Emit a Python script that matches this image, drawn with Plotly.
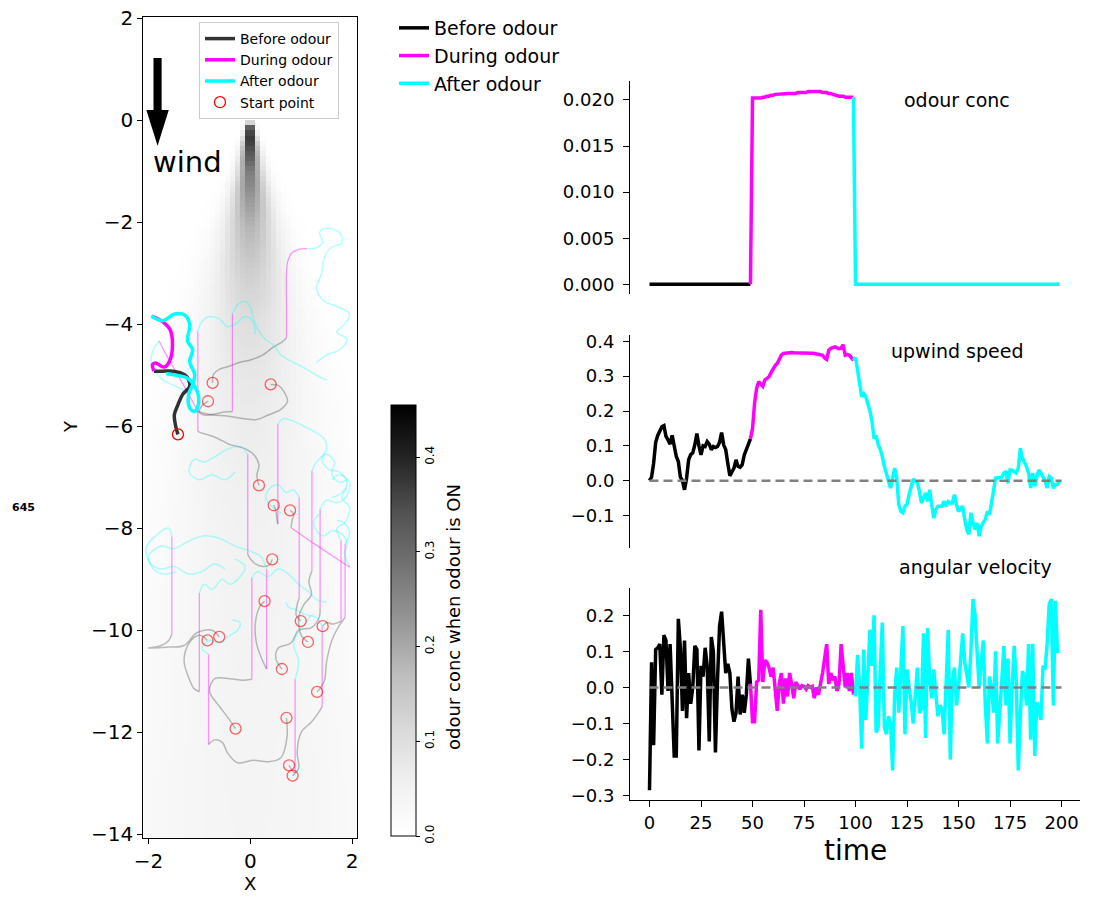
import numpy as np
import plotly.graph_objects as go

FONT = "DejaVu Sans"

# ---------------- time series (right panels) ----------------
time = list(range(200))

odour_conc = [0.0] * 50 + [
    0.0202, 0.0202, 0.0202, 0.0202, 0.0202, 0.0203, 0.0203, 0.0204, 0.0204, 0.0205,
    0.0205, 0.0206, 0.0206, 0.02065, 0.02065, 0.02067, 0.02068, 0.0207, 0.0207, 0.0207,
    0.0207, 0.0207, 0.0208, 0.0208, 0.0208, 0.0208, 0.0208, 0.0209, 0.0209, 0.0209,
    0.0209, 0.0209, 0.0209, 0.0209, 0.0208, 0.0208, 0.0208, 0.0207, 0.0207, 0.0206,
    0.0205, 0.0205, 0.0204, 0.0204, 0.0204, 0.0203, 0.0203, 0.0203, 0.0203, 0.0203,
] + [0.0] * 100

upwind_speed = [
    0.0, 0.01, 0.05, 0.11, 0.13, 0.145, 0.155, 0.158, 0.127, 0.117,
    0.105, 0.13, 0.1, 0.07, 0.055, 0.01, 0.0, -0.026, 0.008, 0.06,
    0.075, 0.08, 0.103, 0.135, 0.1, 0.074, 0.1, 0.098, 0.112, 0.105,
    0.089, 0.098, 0.095, 0.098, 0.11, 0.138, 0.103, 0.089, 0.05, 0.014,
    0.025, 0.036, 0.06, 0.041, 0.039, 0.046, 0.074, 0.089, 0.105, 0.12,
    0.15, 0.222, 0.265, 0.284, 0.279, 0.271, 0.289, 0.293, 0.298, 0.31,
    0.322, 0.33, 0.336, 0.35, 0.36, 0.365, 0.366, 0.367, 0.367, 0.368,
    0.367, 0.367, 0.368, 0.368, 0.367, 0.367, 0.368, 0.367, 0.366, 0.366,
    0.365, 0.364, 0.363, 0.362, 0.36, 0.352, 0.348, 0.374, 0.38, 0.382,
    0.384, 0.381, 0.379, 0.38, 0.39, 0.36, 0.362, 0.36, 0.352, 0.345,
    0.353, 0.317, 0.275, 0.241, 0.25, 0.241, 0.22, 0.2, 0.17, 0.12,
    0.13, 0.103, 0.09, 0.07, 0.041, 0.015, 0.0, -0.021, 0.01, 0.036,
    0.008, -0.069, -0.088, -0.092, -0.073, -0.068, -0.04, -0.016, 0.005, -0.002,
    -0.005, -0.03, -0.064, -0.05, -0.035, -0.059, -0.026, -0.07, -0.107, -0.083,
    -0.073, -0.073, -0.073, -0.059, -0.073, -0.06, -0.064, -0.064, -0.04, -0.069,
    -0.088, -0.08, -0.073, -0.111, -0.14, -0.154, -0.092, -0.12, -0.14, -0.121,
    -0.159, -0.13, -0.121, -0.111, -0.088, -0.097, -0.064, -0.03, 0.008, 0.008,
    0.008, 0.01, 0.022, 0.027, -0.007, 0.031, 0.03, 0.027, 0.022, 0.036,
    0.093, 0.065, 0.055, 0.04, 0.022, -0.021, 0.022, -0.016, 0.012, 0.031,
    0.022, 0.012, 0.0, -0.021, 0.012, 0.008, -0.021, -0.011, -0.011, -0.002,
]

angular_velocity = [
    -0.285, 0.07, -0.16, 0.105, 0.11, 0.12, -0.02, 0.145, 0.13, -0.01,
    0.12, -0.02, -0.19, -0.19, 0.19, 0.11, -0.065, 0.13, -0.085, 0.04,
    -0.045, 0.0, 0.115, 0.105, -0.175, 0.06, 0.03, 0.11, 0.06, -0.15,
    0.14, 0.1, -0.18, 0.02, 0.17, 0.21, 0.12, 0.04, 0.065, 0.04,
    -0.06, -0.095, -0.07, 0.03, -0.075, -0.02, -0.07, -0.02, 0.08, 0.01,
    -0.095, -0.095, 0.015, 0.02, 0.215, 0.015, 0.075, 0.07, 0.055, 0.03,
    0.055, -0.005, -0.065, 0.01, 0.04, -0.045, 0.025, -0.025, 0.04, 0.01,
    -0.03, 0.015, 0.005, -0.005, 0.005, 0.003, -0.005, 0.005, 0.0, 0.003,
    -0.03, 0.0, -0.02, 0.005, 0.04, 0.08, 0.12, 0.01, 0.04, 0.02,
    0.03, -0.01, 0.01, 0.12, 0.06, 0.0, 0.04, -0.01, 0.04, -0.02,
    -0.02, 0.09, 0.0, -0.17, 0.105, -0.09, 0.06, 0.16, 0.06, 0.2,
    -0.125, -0.11, 0.05, 0.18, -0.11, -0.13, -0.08, -0.1, -0.23, -0.02,
    0.055, -0.07, 0.05, 0.17, -0.13, 0.05, 0.0, -0.04, -0.1, -0.02,
    0.055, -0.07, -0.06, 0.15, -0.14, 0.165, 0.02, -0.03, 0.05, -0.02,
    -0.08, -0.05, -0.06, -0.13, 0.02, 0.16, -0.2, 0.02, 0.055, -0.05,
    0.0, 0.08, 0.15, 0.07, 0.03, 0.0, 0.1, 0.245, 0.2, 0.08,
    0.0, 0.07, 0.13, -0.05, -0.155, 0.03, 0.0, -0.07, 0.1, -0.155,
    -0.05, 0.02, 0.115, -0.05, 0.08, -0.155, 0.0, 0.115, 0.02, -0.23,
    -0.08, 0.045, 0.03, -0.05, 0.12, -0.145, 0.12, -0.19, -0.04, -0.06,
    -0.09, 0.06, 0.05, 0.12, 0.23, 0.245, -0.05, 0.24, 0.1, 0.1,
]

# phase boundaries (index ranges, overlapping by one sample so the line is continuous)
before_idx = (0, 50)
during_idx = (49, 100)
after_idx = (99, 200)
baseline_t = [0, 200]
baseline_v = [0, 0]

# ---------------- plume (centre-line level and width) ----------------
plume_y = [-0.05, -0.15, -0.3, -0.6, -1.0, -1.5, -2.0, -2.5, -3.0, -4.0, -5.0, -6.0, -8.0, -10.0, -12.0, -14.2]
plume_conc = [0.2, 0.45, 0.45, 0.37, 0.28, 0.23, 0.19, 0.16, 0.135, 0.1, 0.08, 0.065, 0.052, 0.046, 0.042, 0.04]
plume_sigma = [0.05, 0.06, 0.08, 0.12, 0.17, 0.26, 0.34, 0.42, 0.5, 0.65, 0.8, 0.95, 1.2, 1.45, 1.7, 2.0]

# ---------------- highlighted trajectory ----------------
main_before_x = [-1.42, -1.47, -1.49, -1.42, -1.33, -1.19, -1.21, -1.29, -1.52, -1.72, -1.89]
main_before_y = [-6.16, -5.97, -5.77, -5.58, -5.38, -5.22, -5.09, -4.99, -4.92, -4.92, -4.92]
main_during_x = [-1.89, -1.92, -1.86, -1.69, -1.56, -1.56, -1.72, -1.94]
main_during_y = [-4.92, -4.79, -4.76, -4.84, -4.66, -4.14, -3.95, -3.84]
main_after_x = [-1.94, -1.72, -1.49, -1.29, -1.19, -1.23, -1.13, -1.19, -1.09, -1.13, -1.21, -1.19, -1.09, -1.01, -1.1, -1.25, -1.45, -1.65]
main_after_y = [-3.84, -3.93, -3.80, -3.82, -4.0, -4.33, -4.5, -4.73, -4.99, -5.18, -5.38, -5.64, -5.71, -5.51, -5.2, -5.05, -5.0, -4.97]

# ---------------- background trajectories ----------------
bg_before = [
    ([-0.74, -0.72, -0.60, -0.40, -0.22, 0.0, 0.25, 0.45, 0.62, 0.71], [-5.15, -4.98, -4.88, -4.82, -4.75, -4.7, -4.6, -4.45, -4.35, -4.27]),
    ([-0.83, -0.95, -1.0, -0.9, -0.7, -0.5, -0.35], [-5.51, -5.6, -5.72, -5.78, -5.76, -5.72, -5.71]),
    ([0.40, 0.55, 0.66, 0.73, 0.6, 0.35, 0.13, -0.15, -0.46, -0.75, -1.03], [-5.18, -5.2, -5.32, -5.51, -5.67, -5.78, -5.87, -5.85, -5.8, -5.78, -5.71]),
    ([0.17, 0.13, 0.17, 0.07, -0.13, -0.4, -0.66, -0.86, -0.99, -1.03], [-7.16, -6.96, -6.76, -6.56, -6.43, -6.36, -6.23, -6.16, -6.12, -6.1]),
    ([0.46, 0.5, 0.52, 0.54], [-7.55, -7.65, -7.8, -7.92]),
    ([0.78, 0.85, 0.82, 0.8], [-7.65, -7.72, -7.85, -7.99]),
    ([0.43, 0.38, 0.25, 0.1, 0.0, -0.05], [-8.61, -8.72, -8.75, -8.7, -8.6, -8.51]),
    ([0.28, 0.18, 0.1, 0.12, 0.22, 0.32], [-9.43, -9.55, -9.85, -10.25, -10.55, -10.76]),
    ([0.99, 0.9, 0.92, 0.96], [-9.82, -9.7, -9.5, -9.37]),
    ([1.42, 1.5, 1.62, 1.72, 1.78], [-9.92, -9.85, -9.88, -9.85, -9.82]),
    ([1.13, 1.0, 0.95, 1.05, 1.2, 1.15, 1.21], [-10.23, -10.1, -9.75, -9.5, -9.3, -9.05, -8.84]),
    ([-0.61, -0.75, -1.05, -1.3, -1.6, -2.0, -1.75, -1.6, -1.54], [-10.13, -10.0, -10.05, -10.3, -10.33, -10.35, -10.3, -10.2, -10.08]),
    ([-0.84, -1.0, -1.2, -1.3, -1.22, -1.1, -1.0], [-10.2, -10.1, -10.25, -10.6, -10.9, -11.15, -11.2]),
    ([0.62, 0.5, 0.55, 0.8, 0.95, 1.2, 1.35, 1.37], [-10.76, -10.55, -10.35, -10.25, -10.0, -9.95, -9.75, -9.57]),
    ([1.31, 1.45, 1.5, 1.6, 1.75, 1.86], [-11.21, -11.0, -10.6, -10.2, -9.9, -9.75]),
    ([0.71, 0.72, 0.6, 0.35, 0.05, -0.25, -0.45, -0.55, -0.7, -0.82], [-11.72, -12.1, -12.5, -12.58, -12.55, -12.6, -12.4, -12.2, -12.15, -12.24]),
    ([-0.29, -0.45, -0.6, -0.8, -0.7, -0.4, -0.15, 0.03], [-11.93, -11.7, -11.5, -11.2, -10.95, -10.95, -10.98, -10.96]),
    ([0.76, 0.82, 0.88], [-12.65, -12.75, -12.8]),
    ([0.83, 0.95, 0.92, 1.0, 1.2, 1.35, 1.41], [-12.85, -12.7, -12.4, -12.0, -11.8, -11.6, -11.5]),
]

bg_during = [
    ([0.71, 0.71, 0.71, 0.74, 0.82, 0.95, 1.11], [-4.27, -3.6, -3.0, -2.75, -2.6, -2.53, -2.52]),
    ([-0.35, -0.35, -0.35], [-5.71, -4.5, -3.8]),
    ([-1.03, -1.25, -1.45, -1.65, -1.79], [-5.71, -5.3, -4.95, -4.6, -4.33]),
    ([-1.03, -1.03, -1.03], [-6.1, -5.0, -4.14]),
    ([0.54, 0.54, 0.54], [-7.92, -7.0, -5.96]),
    ([0.8, 1.1, 1.4, 1.7, 1.95, 1.93], [-7.99, -8.2, -8.4, -8.6, -8.76, -8.72]),
    ([-0.05, -0.05, -0.05], [-8.51, -7.5, -6.55]),
    ([0.32, 0.32, 0.32], [-10.76, -9.8, -8.8]),
    ([0.96, 0.96, 0.96], [-9.37, -8.4, -7.4]),
    ([1.78, 1.78, 1.78], [-9.82, -9.0, -8.24]),
    ([1.21, 1.21, 1.21], [-8.84, -7.9, -6.88]),
    ([-1.54, -1.54, -1.54], [-10.08, -9.1, -8.16]),
    ([-1.0, -1.0, -1.0], [-11.2, -10.2, -9.27]),
    ([1.37, 1.37, 1.37], [-9.57, -8.6, -7.63]),
    ([1.86, 1.86, 1.86], [-9.75, -9.0, -8.3]),
    ([-0.82, -0.82, -0.82], [-12.24, -11.3, -10.47]),
    ([0.03, 0.03, 0.03], [-10.96, -10.0, -8.97]),
    ([0.88, 0.88, 0.88], [-12.8, -11.9, -10.96]),
    ([1.41, 1.41, 1.41], [-11.5, -10.7, -9.92]),
]

bg_after = [
    ([1.11, 1.3, 1.42, 1.36, 1.5, 1.75, 1.8, 1.58, 1.45, 1.4, 1.3, 1.45, 1.7, 1.95, 1.85, 1.7, 1.9, 1.75, 1.5, 1.3],
     [-2.52, -2.5, -2.38, -2.2, -2.12, -2.2, -2.4, -2.5, -2.7, -3.0, -3.3, -3.55, -3.65, -3.8, -4.0, -4.15, -4.3, -4.5, -4.6, -4.75]),
    ([-0.35, -0.25, -0.12, -0.02, 0.05, 0.15, 0.3, 0.45, 0.6, 0.85, 1.05, 1.3, 1.5],
     [-3.8, -3.62, -3.55, -3.62, -3.85, -4.1, -4.3, -4.4, -4.6, -4.75, -4.85, -5.0, -5.1]),
    ([-1.79, -1.9, -1.95, -1.85, -1.7, -1.5, -1.3], [-4.33, -4.5, -4.7, -4.95, -5.1, -5.2, -5.3]),
    ([-1.03, -0.95, -0.8, -0.6, -0.45, -0.3, -0.1, 0.05, 0.1], [-4.14, -3.95, -3.85, -3.9, -4.05, -4.0, -3.85, -3.95, -4.2]),
    ([0.54, 0.65, 0.85, 1.05, 1.25, 1.45, 1.5, 1.4, 1.55, 1.75, 1.9, 1.8, 1.6],
     [-5.96, -5.85, -5.9, -6.0, -6.1, -6.25, -6.45, -6.65, -6.85, -6.9, -7.1, -7.3, -7.4]),
    ([1.93, 1.85, 1.9, 1.78, 1.6, 1.45, 1.3, 1.25, 1.4], [-8.72, -8.5, -8.3, -8.1, -8.05, -8.15, -8.05, -7.85, -7.7]),
    ([-0.05, -0.2, -0.45, -0.7, -0.9, -1.1, -1.2, -1.0, -0.75, -0.5, -0.3], [-6.55, -6.4, -6.45, -6.6, -6.7, -6.65, -6.9, -7.05, -6.95, -7.05, -6.9]),
    ([0.32, 0.2, 0.0, -0.3, -0.6, -0.9, -1.2, -1.5, -1.75, -2.0, -1.9, -1.7, -1.45],
     [-8.8, -8.55, -8.45, -8.35, -8.2, -8.15, -8.25, -8.4, -8.35, -8.55, -8.8, -8.9, -8.85]),
    ([0.96, 0.85, 0.7, 0.55, 0.4, 0.3, 0.45, 0.6], [-7.4, -7.25, -7.3, -7.15, -7.2, -7.4, -7.6, -7.7]),
    ([1.78, 1.7, 1.85, 1.95, 1.8, 1.9], [-8.24, -8.0, -7.9, -7.6, -7.4, -7.2]),
    ([1.21, 1.3, 1.5, 1.65, 1.6, 1.75, 1.9], [-6.88, -6.7, -6.55, -6.7, -6.95, -7.1, -7.05]),
    ([-1.54, -1.6, -1.8, -2.05, -1.95, -1.75, -1.5, -1.2, -0.95, -0.7, -0.5], [-8.16, -8.0, -8.1, -8.4, -8.7, -8.8, -8.75, -8.9, -8.85, -8.7, -8.8]),
    ([-1.0, -0.9, -0.75, -0.55, -0.4, -0.2, -0.1, -0.3], [-9.27, -9.1, -9.2, -9.0, -9.1, -8.95, -8.75, -8.6]),
    ([1.37, 1.5, 1.7, 1.9, 1.95, 1.75, 1.6], [-7.63, -7.45, -7.5, -7.35, -7.1, -6.95, -7.05]),
    ([1.86, 1.95, 1.85, 1.7], [-8.3, -8.1, -7.9, -7.85]),
    ([-0.82, -0.95, -0.8, -0.6, -0.4, -0.25, -0.2, -0.35], [-10.47, -10.35, -10.2, -10.25, -10.1, -10.0, -9.85, -9.8]),
    ([0.03, 0.15, 0.35, 0.55, 0.75, 0.95, 1.15, 1.3, 1.5], [-8.97, -8.85, -8.95, -8.8, -8.9, -9.1, -9.25, -9.4, -9.45]),
    ([0.88, 0.95, 0.85, 0.9, 1.05, 1.2], [-10.96, -10.6, -10.3, -10.1, -9.9, -9.7]),
    ([1.41, 1.3, 1.1, 0.9, 0.75, 0.7], [-9.92, -9.75, -9.7, -9.6, -9.55, -9.45]),
]

# ---------------- colours ----------------
GREYS = [[0.0, "rgb(255,255,255)"], [0.125, "rgb(240,240,240)"], [0.25, "rgb(217,217,217)"],
         [0.375, "rgb(189,189,189)"], [0.5, "rgb(150,150,150)"], [0.625, "rgb(115,115,115)"],
         [0.75, "rgb(82,82,82)"], [0.875, "rgb(37,37,37)"], [1.0, "rgb(0,0,0)"]]
C_BEFORE = "#000000"
C_BEFORE_MAP = "rgba(0,0,0,0.8)"
C_DURING = "#ff00ff"
C_AFTER = "#00ffff"

# page geometry: the page body has an 8px margin, so the figure is placed at (8, 8)
OFF = 8
W, H = 1095 - OFF, 897 - OFF
def px(x):
    return (x - OFF) / W
def py(y):
    return 1 - (y - OFF) / H
def dx(a, b):
    return [px(a), px(b)]
def dy(top, bottom):
    return [py(bottom), py(top)]

fig = go.Figure()

# plume heatmap
xc = np.round(np.arange(-2.05, 2.06, 0.1), 3)
yc = np.round(np.arange(1.95, -14.11, -0.1), 3)
pyr = np.array(plume_y[::-1])
cc = np.interp(yc, pyr, plume_conc[::-1])
cs = np.interp(yc, pyr, plume_sigma[::-1])
Z = cc[:, None] * np.exp(-xc[None, :] ** 2 / (2 * cs[:, None] ** 2))
Z[yc > 0, :] = 0.0

fig.add_trace(go.Heatmap(
    x=xc, y=yc, z=Z, colorscale=GREYS, zmin=0, zmax=0.455, xaxis="x", yaxis="y",
    hoverinfo="skip", showscale=True,
    colorbar=dict(x=px(391), xanchor="left", y=py(836), yanchor="bottom",
                  len=(836 - 405) / H, lenmode="fraction", thickness=25, thicknessmode="pixels",
                  xpad=0, ypad=0, outlinewidth=1, outlinecolor="black",
                  tickvals=[0, 0.1, 0.2, 0.3, 0.4], ticktext=["0.0", "0.1", "0.2", "0.3", "0.4"],
                  tickangle=-90, ticks="outside", ticklen=4, tickcolor="black",
                  tickfont=dict(family=FONT, size=12, color="black")),
))

# background trajectories
for bx, by in bg_before:
    fig.add_trace(go.Scatter(x=bx, y=by, mode="lines", line=dict(color="rgba(0,0,0,0.25)", width=1.5, shape="spline"),
                             showlegend=False, hoverinfo="skip", xaxis="x", yaxis="y"))
for bx, by in bg_during:
    fig.add_trace(go.Scatter(x=bx, y=by, mode="lines", line=dict(color="rgba(255,0,255,0.4)", width=1.3, shape="spline"),
                             showlegend=False, hoverinfo="skip", xaxis="x", yaxis="y"))
for bx, by in bg_after:
    fig.add_trace(go.Scatter(x=bx, y=by, mode="lines", line=dict(color="rgba(0,255,255,0.3)", width=1.5, shape="spline"),
                             showlegend=False, hoverinfo="skip", xaxis="x", yaxis="y"))

# main trajectory
fig.add_trace(go.Scatter(x=main_before_x, y=main_before_y, mode="lines", name="Before odour",
                         line=dict(color=C_BEFORE_MAP, width=3.5, shape="spline"), legend="legend2",
                         legendgroup="b2", xaxis="x", yaxis="y"))
fig.add_trace(go.Scatter(x=main_during_x, y=main_during_y, mode="lines", name="During odour",
                         line=dict(color=C_DURING, width=3.5, shape="spline"), legend="legend2",
                         legendgroup="d2", xaxis="x", yaxis="y"))
fig.add_trace(go.Scatter(x=main_after_x, y=main_after_y, mode="lines", name="After odour",
                         line=dict(color=C_AFTER, width=3.5, shape="spline"), legend="legend2",
                         legendgroup="a2", xaxis="x", yaxis="y"))

# start points
fig.add_trace(go.Scatter(x=[p[0][0] for p in bg_before], y=[p[1][0] for p in bg_before], mode="markers",
                         marker=dict(symbol="circle-open", size=11, color="rgba(255,0,0,0.6)", line=dict(width=1.3)),
                         showlegend=False, hoverinfo="skip", xaxis="x", yaxis="y"))
fig.add_trace(go.Scatter(x=[main_before_x[0]], y=[main_before_y[0]], mode="markers", name="Start point",
                         marker=dict(symbol="circle-open", size=11, color="red", line=dict(width=1.3)),
                         legend="legend2", legendgroup="s2", xaxis="x", yaxis="y"))

# right panels
panels = [("x2", "y2", odour_conc, False), ("x3", "y3", upwind_speed, True), ("x4", "y4", angular_velocity, True)]
for k, (xa, ya, series, baseline) in enumerate(panels):
    for (i0, i1), col, nm, grp in [(before_idx, C_BEFORE, "Before odour", "b"),
                                   (during_idx, C_DURING, "During odour", "d"),
                                   (after_idx, C_AFTER, "After odour", "a")]:
        fig.add_trace(go.Scatter(x=time[i0:i1], y=series[i0:i1], mode="lines", name=nm,
                                 line=dict(color=col, width=3.5), showlegend=(k == 0),
                                 legend="legend", legendgroup=grp, xaxis=xa, yaxis=ya, hoverinfo="skip"))
    if baseline:
        fig.add_trace(go.Scatter(x=baseline_t, y=baseline_v, mode="lines",
                                 line=dict(color="gray", width=2.5, dash="9px,5px"),
                                 showlegend=False, xaxis=xa, yaxis=ya, hoverinfo="skip"))

axis_base = dict(showgrid=False, zeroline=False, ticks="outside", tickcolor="black",
                 linecolor="black", linewidth=1, showline=True, automargin=False,
                 ticklabeloverflow="allow")
left_ax = dict(axis_base, ticklen=5, tickfont=dict(family=FONT, size=20, color="black"))
right_ax = dict(axis_base, ticklen=6, tickfont=dict(family=FONT, size=18, color="black"))

y_left_ticks = [2, 0, -2, -4, -6, -8, -10, -12, -14]
fig.update_layout(
    template="none",
    width=W, height=H, margin=dict(l=0, r=0, t=0, b=0, pad=0, autoexpand=False), autosize=False,
    paper_bgcolor="white", plot_bgcolor="white",
    font=dict(family=FONT, color="black"),
    xaxis=dict(domain=dx(143.3, 357.3), range=[-2.1, 2.1], anchor="y", mirror=True,
               tickvals=[-2, 0, 2], ticktext=["\u22122", "0", "2"], **left_ax),
    yaxis=dict(domain=dy(16.7, 838.3), range=[-14.08, 2.03], anchor="x", mirror=True,
               tickvals=y_left_ticks, ticktext=[str(v).replace("-", "\u2212") for v in y_left_ticks], **left_ax),
    xaxis2=dict(domain=dx(629, 1080), range=[-9.95, 208.95], anchor="y2", visible=False),
    yaxis2=dict(domain=dy(81, 294), range=[-0.00105, 0.02205], anchor="free", position=px(629),
                tickvals=[0, 0.005, 0.01, 0.015, 0.02], ticklabelstandoff=5,
                ticktext=["0.000", "0.005", "0.010", "0.015", "0.020"], **right_ax),
    xaxis3=dict(domain=dx(629, 1080), range=[-9.95, 208.95], anchor="y3", visible=False),
    yaxis3=dict(domain=dy(335, 548), range=[-0.193, 0.418], anchor="free", position=px(629),
                tickvals=[-0.1, 0, 0.1, 0.2, 0.3, 0.4], ticklabelstandoff=5,
                ticktext=["\u22120.1", "0.0", "0.1", "0.2", "0.3", "0.4"], **right_ax),
    xaxis4=dict(domain=dx(629, 1080), range=[-9.95, 208.95], anchor="y4",
                tickvals=[0, 25, 50, 75, 100, 125, 150, 175, 200], **right_ax),
    yaxis4=dict(domain=dy(587.5, 800), range=[-0.312, 0.277], anchor="free", position=px(629),
                tickvals=[-0.3, -0.2, -0.1, 0, 0.1, 0.2], ticklabelstandoff=5,
                ticktext=["\u22120.3", "\u22120.2", "\u22120.1", "0.0", "0.1", "0.2"], **right_ax),
    legend=dict(x=px(394), y=py(9), xanchor="left", yanchor="top", bgcolor="rgba(0,0,0,0)",
                font=dict(family=FONT, size=19, color="black"), traceorder="grouped", tracegroupgap=0),
    legend2=dict(x=px(199), y=py(22), xanchor="left", yanchor="top", bgcolor="white",
                 bordercolor="#cccccc", borderwidth=1,
                 font=dict(family=FONT, size=14, color="black"), traceorder="grouped", tracegroupgap=0),
)

# wind arrow (decoration)
ax_c = -1.82
fig.add_shape(type="rect", xref="x", yref="y", x0=ax_c - 0.08, x1=ax_c + 0.08, y0=0.15, y1=1.22,
              fillcolor="black", line=dict(width=0))
fig.add_shape(type="path", xref="x", yref="y",
              path=f"M {ax_c - 0.22},0.2 L {ax_c + 0.22},0.2 L {ax_c},-0.5 Z",
              fillcolor="black", line=dict(width=0))

def label(text, x, y, size, angle=0, bold=False):
    return dict(text=f"<b>{text}</b>" if bold else text, x=px(x), y=py(y), xref="paper", yref="paper",
                xanchor="center", yanchor="middle", showarrow=False, textangle=angle,
                font=dict(family=FONT, size=size, color="black"))

ann = [
    dict(text="wind", x=-1.95, y=-0.82, xref="x", yref="y", xanchor="left", yanchor="middle",
         showarrow=False, font=dict(family=FONT, size=29, color="black")),
    label("X", 250, 883, 18),
    label("Y", 70, 427, 18, angle=-90),
    label("time", 855, 850, 28),
    label("odour conc when odour is ON", 453, 617, 18, angle=-90),
    label("odour conc", 957, 100, 19),
    label("upwind speed", 957, 351, 19),
    label("angular velocity", 975, 567, 19),
    label("645", 23, 507, 11, bold=True),
]
fig.update_layout(annotations=ann)

fig.write_html("out.html")
